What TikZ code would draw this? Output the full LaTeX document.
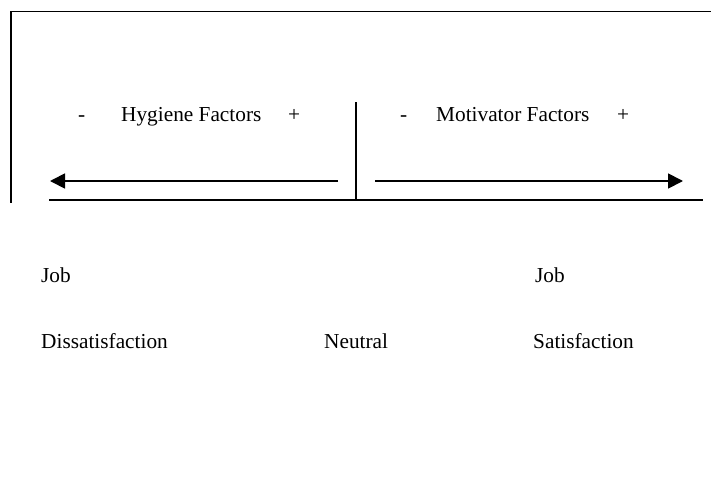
\documentclass[tikz,border=0pt]{standalone}
\usepackage{fontspec}
\setmainfont{Liberation Serif}
\usetikzlibrary{arrows.meta}
\begin{document}
\begin{tikzpicture}[x=1pt,y=-1pt,
  lbl/.style={anchor=base west,inner sep=0pt,font=\fontsize{21.3}{24}\selectfont},
  rule/.style={line width=1.8pt},
  arr/.style={rule,-{Triangle[length=15pt,width=15pt]}}]
\useasboundingbox (0,0) rectangle (711,482);
% frame
\coordinate (tl) at (10,11.5);
\coordinate (tr) at (711,11.5);
\coordinate (lt) at (11,11.5);
\coordinate (lb) at (11,203);
\draw[rule] (tl) -- (tr);
\draw[rule] (lt) -- (lb);
% axis
\coordinate (bl) at (49,200);
\coordinate (br) at (703,200);
\draw[rule] (bl) -- (br);
\coordinate (mt) at (356,102);
\coordinate (mb) at (356,199);
\draw[rule] (mt) -- (mb);
% arrows
\coordinate (la0) at (338,181);
\coordinate (la1) at (50,181);
\coordinate (ra0) at (375,181);
\coordinate (ra1) at (683,181);
\draw[arr] (la0) -- (la1);
\draw[arr] (ra0) -- (ra1);
% labels
\node[lbl] (hm) at (78,121) {-};
\node[lbl] (hy) at (121,121) {Hygiene Factors};
\node[lbl] (hp) at (288,121) {+};
\node[lbl] (mm) at (400,121) {-};
\node[lbl] (mo) at (436,121) {Motivator Factors};
\node[lbl] (mp) at (617,121) {+};
\node[lbl] (j1) at (41,282) {Job};
\node[lbl] (ds) at (41,348) {Dissatisfaction};
\node[lbl] (ne) at (324,348) {Neutral};
\node[lbl] (j2) at (535,282) {Job};
\node[lbl] (sa) at (533,348) {Satisfaction};
\end{tikzpicture}
\end{document}
